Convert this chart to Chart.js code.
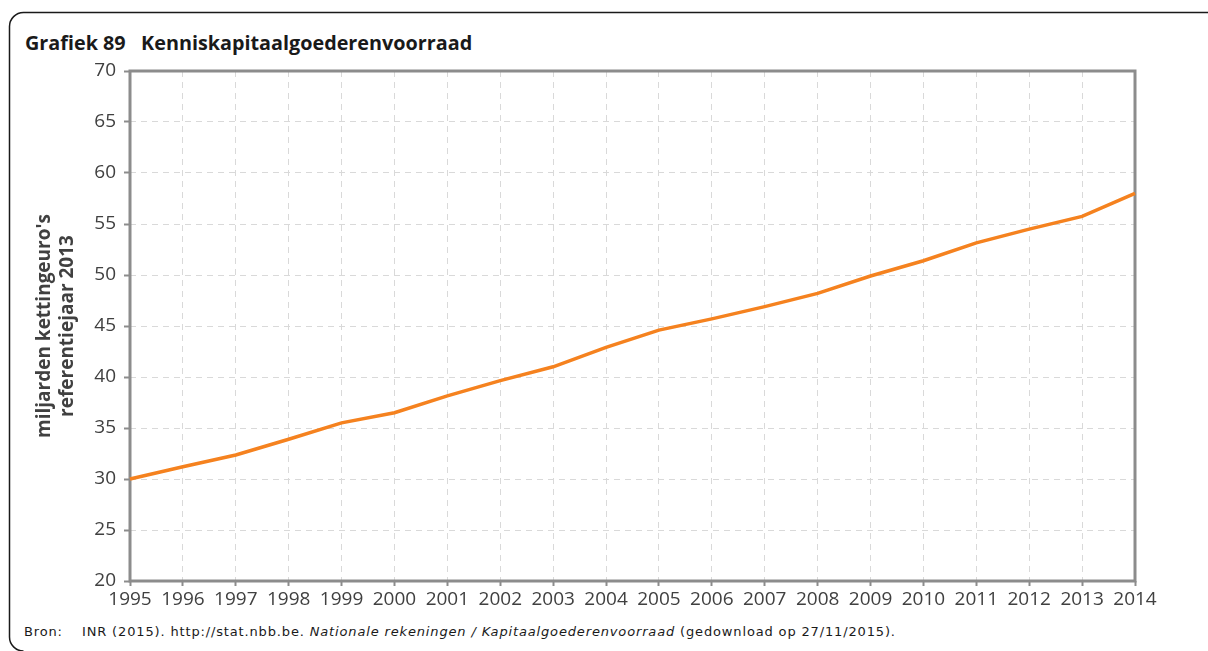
<!DOCTYPE html>
<html lang="nl">
<head>
<meta charset="utf-8">
<title>Kenniskapitaalgoederenvoorraad</title>
<script src="https://cdn.jsdelivr.net/npm/chart.js@4/dist/chart.umd.min.js"></script>
<style>
  html, body { margin: 0; padding: 0; background: #ffffff; }
  body { width: 1208px; height: 651px; position: relative; overflow: hidden; }
  #frame { position: absolute; left: 0; top: 0; }
  #title {
    position: absolute; left: 25px; top: 31px; font-family: "Open Sans", sans-serif;
    font-weight: bold; font-size: 19.8px; color: #1a1a1a; white-space: pre; line-height: 24px;
  }
  .src {
    position: absolute; top: 624px; font-family: "DejaVu Sans", sans-serif;
    font-size: 13px; letter-spacing: 0.85px; color: #1a1a1a; white-space: pre; line-height: 16px;
  }
  #chart { position: absolute; left: 0; top: 0; }
</style>
</head>
<body>
<svg id="frame" width="1208" height="651">
  <path d="M 1208 12.5 H 23.5 A 14 14 0 0 0 9.5 26.5 V 637 A 14 14 0 0 0 23.5 651"
        fill="none" stroke="#1a1a1a" stroke-width="1.5"/>
</svg>
<div id="title">Grafiek 89   Kenniskapitaalgoederenvoorraad</div>
<div class="src" style="left:24px">Bron:</div>
<div class="src" style="left:82px">INR (2015). http://stat.nbb.be. <i>Nationale rekeningen / Kapitaalgoederenvoorraad</i> (gedownload op 27/11/2015).</div>
<canvas id="chart" width="1208" height="651"></canvas>
<script>
// Jaren op de horizontale as
const years = ['1995', '1996', '1997', '1998', '1999', '2000', '2001', '2002', '2003', '2004',
               '2005', '2006', '2007', '2008', '2009', '2010', '2011', '2012', '2013', '2014'];
// Kenniskapitaalgoederenvoorraad, miljarden kettingeuro's (referentiejaar 2013)
const stockValues = [30.0, 31.2, 32.35, 33.9, 35.5, 36.5, 38.15, 39.65, 41.0, 42.9,
                     44.6, 45.7, 46.9, 48.2, 49.9, 51.4, 53.15, 54.5, 55.75, 58.0];
// Verticale as
const yMin = 20;
const yMax = 70;
const yStep = 5;
const yTitleLines = ["miljarden kettingeuro's", 'referentiejaar 2013'];

const axisGray = '#8c8c8c';
const gridGray = '#d9d9d9';
const labelGray = '#404040';
const tickFont = { family: '"Open Sans", sans-serif', size: 19 };

// Grijs kader rond het tekengebied
const plotBox = {
  id: 'plotBox',
  beforeDatasetsDraw(chart) {
    const { ctx, chartArea: a } = chart;
    ctx.save();
    ctx.strokeStyle = axisGray;
    ctx.lineWidth = 3;
    ctx.strokeRect(a.left, a.top, a.right - a.left, a.bottom - a.top);
    ctx.restore();
  }
};

// Titel van de verticale as, twee regels, gedraaid
const yAxisTitle = {
  id: 'yAxisTitle',
  afterDraw(chart) {
    const { ctx, chartArea: a } = chart;
    const cy = (a.top + a.bottom) / 2;
    ctx.save();
    ctx.fillStyle = labelGray;
    ctx.font = 'bold 19px "Open Sans", sans-serif';
    ctx.textAlign = 'center';
    ctx.textBaseline = 'middle';
    const xs = [45, 68];
    yTitleLines.forEach((line, i) => {
      ctx.save();
      ctx.translate(xs[i], cy);
      ctx.rotate(-Math.PI / 2);
      ctx.fillText(line, 0, 0);
      ctx.restore();
    });
    ctx.restore();
  }
};

new Chart(document.getElementById('chart'), {
  type: 'line',
  data: {
    labels: years,
    datasets: [{
      data: stockValues,
      borderColor: '#f5821f',
      borderWidth: 3.5,
      pointRadius: 0,
      tension: 0,
      fill: false
    }]
  },
  options: {
    responsive: false,
    animation: false,
    layout: { padding: { left: 30, right: 73, top: 71, bottom: 30 } },
    plugins: { legend: { display: false }, tooltip: { enabled: false } },
    scales: {
      x: {
        offset: false,
        grid: { color: gridGray, lineWidth: 1, tickLength: 5, tickColor: axisGray, tickWidth: 2 },
        border: { display: false, dash: [6, 5] },
        ticks: { font: tickFont, color: labelGray, maxRotation: 0, autoSkip: false, padding: 2 },
        afterFit(scale) { scale.height = 40; }
      },
      y: {
        min: yMin,
        max: yMax,
        grid: { color: gridGray, lineWidth: 1, tickLength: 6, tickColor: axisGray, tickWidth: 2 },
        border: { display: false, dash: [6, 5] },
        ticks: { stepSize: yStep, font: tickFont, color: labelGray, padding: 8 },
        afterFit(scale) { scale.width = 100; }
      }
    }
  },
  plugins: [plotBox, yAxisTitle]
});
</script>
</body>
</html>
